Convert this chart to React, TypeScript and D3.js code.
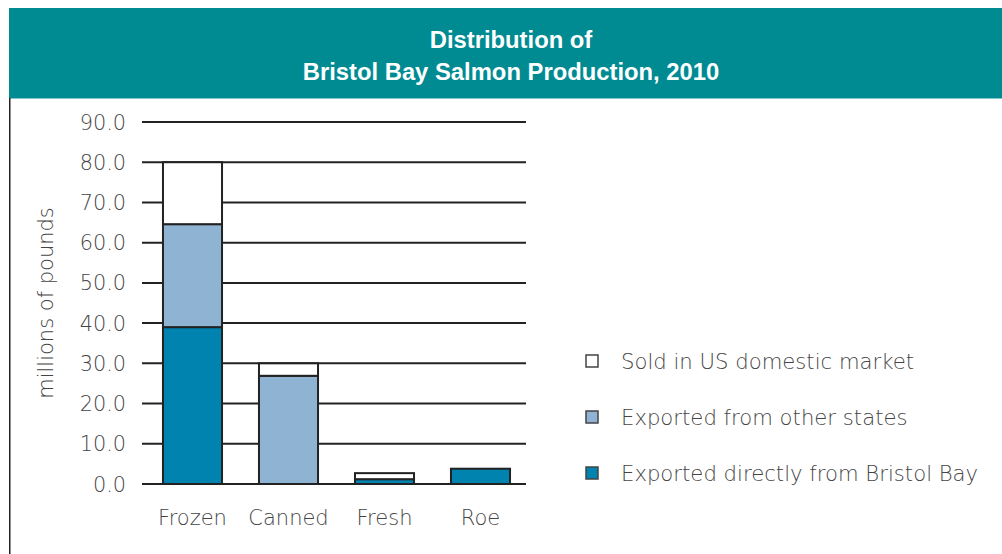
import React from "react";
import * as d3 from "d3";

const categories = ["Frozen", "Canned", "Fresh", "Roe"];
const seriesNames = ["Exported directly from Bristol Bay", "Exported from other states", "Sold in US domestic market"];
const exportedBristol = [39.0, 0.0, 1.2, 3.8];
const exportedOther = [25.6, 26.9, 0.0, 0.0];
const domestic = [15.4, 3.1, 1.5, 0.0];
const yTicks = [0, 10, 20, 30, 40, 50, 60, 70, 80, 90];
const legendOrder = ["Sold in US domestic market", "Exported from other states", "Exported directly from Bristol Bay"];
const titleLines = ["Distribution of", "Bristol Bay Salmon Production, 2010"];

const colors: Record<string, string> = {
  "Exported directly from Bristol Bay": "#0083AE",
  "Exported from other states": "#8FB3D3",
  "Sold in US domestic market": "#FFFFFF",
};

const FONT = "'DejaVu Sans', 'Liberation Sans', Arial, sans-serif";
const TITLE_FONT = "'Liberation Sans', Arial, sans-serif";
const TEXT = "#454545";

export default function App() {
  const W = 1002, H = 554;
  const y = d3.scaleLinear().domain([0, 90]).range([484, 122]);
  const x = d3.scaleBand<string>().domain(categories).range([144.5, 528.5]).paddingInner(0.385).paddingOuter(0.1925);
  const gridX0 = 142, gridX1 = 526;

  const rows = categories.map((c, i) => ({
    cat: c,
    [seriesNames[0]]: exportedBristol[i],
    [seriesNames[1]]: exportedOther[i],
    [seriesNames[2]]: domestic[i],
  }));
  const stack = d3.stack<any>().keys(seriesNames)(rows as any);

  const legendY = d3.scalePoint<string>().domain(legendOrder).range([361, 473]);

  return (
    <svg width={W} height={H} style={{ position: "absolute", left: 0, top: 0, display: "block" }}>
      <rect x={0} y={0} width={W} height={H} fill="#fff" />
      <rect x={9} y={8} width={W - 9} height={90.5} fill="#008B93" />
      {titleLines.map((t, i) => (
        <text key={i} x={511} y={48 + i * 32} textAnchor="middle" fill="#fff" fontFamily={TITLE_FONT} fontWeight={700} fontSize={23.8}>
          {t}
        </text>
      ))}
      <line x1={9.75} x2={9.75} y1={98} y2={H} stroke="#222" strokeWidth={1.5} />

      {yTicks.map((t) => (
        <g key={t}>
          <line x1={gridX0} x2={gridX1} y1={y(t)} y2={y(t)} stroke="#222" strokeWidth={2} />
          <text x={126} y={y(t) + 7.5} textAnchor="end" fill={TEXT} fontFamily={FONT} fontWeight={200} fontSize={20.8}>
            {t.toFixed(1)}
          </text>
        </g>
      ))}

      {stack.map((s) => (
        <g key={s.key}>
          {s.map((d, i) =>
            d[1] - d[0] > 0 ? (
              <rect
                key={i}
                x={x(categories[i])!}
                width={x.bandwidth()}
                y={y(d[1])}
                height={y(d[0]) - y(d[1])}
                fill={colors[s.key]}
                stroke="#222"
                strokeWidth={2}
              />
            ) : null
          )}
        </g>
      ))}

      {categories.map((c) => (
        <text key={c} x={x(c)! + x.bandwidth() / 2} y={525} textAnchor="middle" fill={TEXT} fontFamily={FONT} fontWeight={200} fontSize={21}>
          {c}
        </text>
      ))}

      <text transform={`translate(53,303) rotate(-90)`} textAnchor="middle" fill={TEXT} fontFamily={FONT} fontWeight={200} fontSize={21}>
        millions of pounds
      </text>

      {legendOrder.map((k) => (
        <g key={k}>
          <rect x={586} y={legendY(k)! - 6} width={12} height={12} fill={colors[k]} stroke="#444" strokeWidth={1.5} />
          <text x={621} y={legendY(k)! + 7.5} fill={TEXT} fontFamily={FONT} fontWeight={200} fontSize={21.2}>
            {k}
          </text>
        </g>
      ))}
    </svg>
  );
}
